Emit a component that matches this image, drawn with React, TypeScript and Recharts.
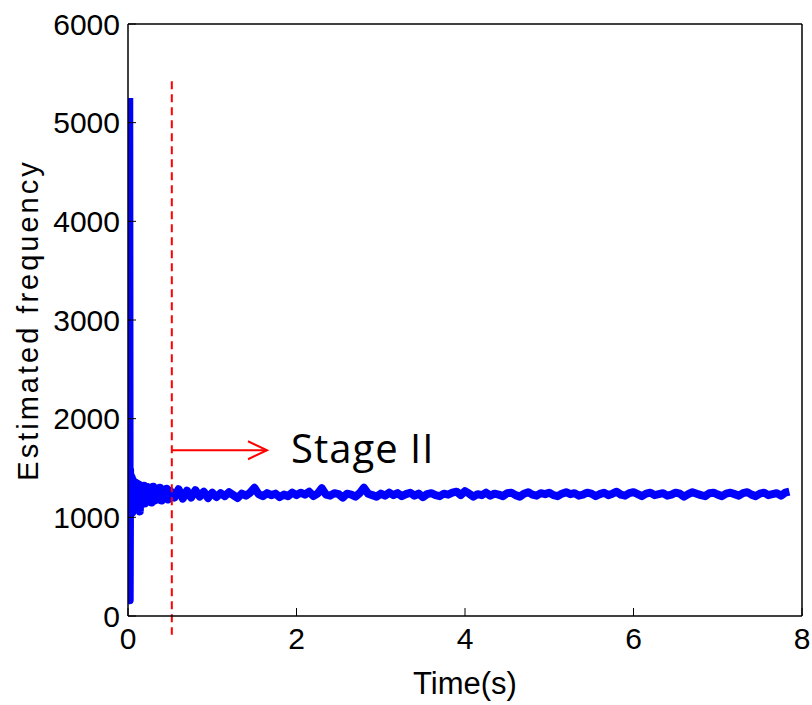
import { Line, LineChart, ReferenceLine, XAxis, YAxis } from "recharts";

// time (s) and estimated frequency
const TIME = [
	0.015, 0.02, 0.025, 0.03, 0.035, 0.04, 0.045, 0.05, 0.055, 0.06, 0.07, 0.08, 0.09, 0.1, 0.11, 0.12,
	0.13, 0.14, 0.15, 0.16, 0.17, 0.18, 0.19, 0.2, 0.22, 0.24, 0.26, 0.28, 0.3, 0.32, 0.34, 0.36,
	0.38, 0.4, 0.42, 0.44, 0.46, 0.48, 0.5,
	0.55, 0.6, 0.65, 0.7, 0.75, 0.8, 0.85, 0.9, 0.95,
	1.0, 1.05, 1.1, 1.15, 1.2, 1.25, 1.3, 1.35, 1.4, 1.45, 1.5, 1.55, 1.6, 1.65, 1.7, 1.75, 1.8, 1.85, 1.9, 1.95,
	2.0, 2.05, 2.1, 2.15, 2.2, 2.25, 2.3, 2.35, 2.4, 2.45, 2.5, 2.55, 2.6, 2.65, 2.7, 2.75, 2.8, 2.85, 2.9, 2.95,
	3.0, 3.05, 3.1, 3.15, 3.2, 3.25, 3.3, 3.35, 3.4, 3.45, 3.5, 3.55, 3.6, 3.65, 3.7, 3.75, 3.8, 3.85, 3.9, 3.95,
	4.0, 4.05, 4.1, 4.15, 4.2, 4.25, 4.3, 4.35, 4.4, 4.45, 4.5, 4.55, 4.6, 4.65, 4.7, 4.75, 4.8, 4.85, 4.9, 4.95,
	5.0, 5.05, 5.1, 5.15, 5.2, 5.25, 5.3, 5.35, 5.4, 5.45, 5.5, 5.55, 5.6, 5.65, 5.7, 5.75, 5.8, 5.85, 5.9, 5.95,
	6.0, 6.05, 6.1, 6.15, 6.2, 6.25, 6.3, 6.35, 6.4, 6.45, 6.5, 6.55, 6.6, 6.65, 6.7, 6.75, 6.8, 6.85, 6.9, 6.95,
	7.0, 7.05, 7.1, 7.15, 7.2, 7.25, 7.3, 7.35, 7.4, 7.45, 7.5, 7.55, 7.6, 7.65, 7.7, 7.75, 7.8, 7.85,
];
const FREQ = [
	5250, 160, 1480, 1030, 1420, 1060, 1400, 1050, 1380, 1100, 1360, 1080, 1350, 1120, 1340, 1100,
	1330, 1060, 1320, 1130, 1310, 1150, 1320, 1140, 1310, 1160, 1300, 1150, 1310, 1170, 1290, 1180,
	1300, 1170, 1280, 1190, 1290, 1180, 1270,
	1200, 1285, 1190, 1270, 1200, 1275, 1210, 1260, 1195,
	1250, 1205, 1245, 1215, 1255, 1225, 1195, 1240, 1220, 1250, 1300, 1235, 1215, 1245, 1225, 1240, 1205, 1230, 1215, 1250,
	1225, 1250, 1230, 1260, 1215, 1240, 1295, 1230, 1220, 1245, 1235, 1200, 1240, 1230, 1210, 1245, 1300, 1240, 1225, 1210,
	1240, 1220, 1250, 1225, 1245, 1215, 1235, 1250, 1220, 1240, 1205, 1235, 1245, 1225, 1215, 1240, 1230, 1250, 1260, 1225,
	1265, 1240, 1210, 1235, 1225, 1250, 1220, 1240, 1230, 1215, 1245, 1250, 1225, 1210, 1240, 1255, 1230, 1220, 1245, 1235,
	1250, 1225, 1215, 1240, 1255, 1235, 1245, 1220, 1230, 1250, 1240, 1215, 1235, 1250, 1225, 1240, 1260, 1230, 1220, 1245,
	1255, 1235, 1215, 1240, 1250, 1225, 1235, 1245, 1220, 1230, 1250, 1240, 1210, 1235, 1255, 1240, 1225, 1215, 1245, 1250,
	1230, 1215, 1240, 1250, 1235, 1220, 1245, 1255, 1230, 1215, 1240, 1250, 1225, 1235, 1245, 1220, 1250, 1260,
];

const X_TICKS = [0, 2, 4, 6, 8];
const Y_TICKS = [0, 1000, 2000, 3000, 4000, 5000, 6000];

// annotation: stage boundary and arrow
const STAGE_T = 0.52;
const STAGE_Y_TOP = 5420;
const STAGE_Y_BOTTOM = -190;
const ARROW_END_T = 1.65;
const ARROW_F = 1680;
const STAGE_LABEL = "Stage II";

const FONT = "'Liberation Sans', Arial, sans-serif";
const BLUE = "#0000ff";
const RED = "#ff0000";

const data = TIME.map((t, i) => ({ t, f: FREQ[i] }));

function Arrow(props: any) {
	const { x1, y1, x2, y2 } = props;
	return (
		<g>
			<line x1={x1} y1={y1} x2={x2} y2={y2} stroke={RED} strokeWidth={2} />
			<polyline
				points={`${x2 - 19},${y2 - 9} ${x2},${y2} ${x2 - 19},${y2 + 9}`}
				fill="none"
				stroke={RED}
				strokeWidth={2}
			/>
			<text
				x={x2 + 24}
				y={y2 + 13}
				fontFamily="'Open Sans', 'Noto Sans', sans-serif"
				fontSize={40}
				letterSpacing={1}
				fill="#000"
			>
				{STAGE_LABEL}
			</text>
		</g>
	);
}

export default function App() {
	const axisLine = { stroke: "#000", strokeWidth: 1.5 };
	const tickLine = { stroke: "#000", strokeWidth: 1 };
	const tickStyle = { fill: "#000", fontSize: 30, fontFamily: FONT };
	return (
		<div style={{ position: "absolute", left: 0, top: 0, background: "#fff" }}>
			<LineChart width={812} height={705} data={data} margin={{ top: 0, right: 0, bottom: 0, left: 0 }}>
				<XAxis
					dataKey="t"
					type="number"
					domain={[0, 8]}
					ticks={X_TICKS}
					allowDataOverflow
					height={89}
					axisLine={axisLine}
					tickLine={tickLine}
					tickSize={-8}
					tickMargin={20}
					tick={tickStyle}
					label={{ value: "Time(s)", position: "insideBottom", offset: 11, style: { fill: "#000", fontSize: 31, fontFamily: FONT } }}
				/>
				<XAxis
					xAxisId="top"
					orientation="top"
					dataKey="t"
					type="number"
					domain={[0, 8]}
					ticks={X_TICKS}
					height={24}
					axisLine={axisLine}
					tickLine={tickLine}
					tickSize={-8}
					tick={false}
				/>
				<YAxis
					type="number"
					domain={[0, 6000]}
					ticks={Y_TICKS}
					allowDataOverflow
					width={128}
					axisLine={axisLine}
					tickLine={tickLine}
					tickSize={-8}
					tickMargin={16}
					tick={tickStyle}
					label={{
						value: "Estimated frequency",
						angle: -90,
						position: "insideLeft",
						offset: 28,
						style: { fill: "#000", fontSize: 29, fontFamily: FONT, textAnchor: "middle", letterSpacing: 3 },
					}}
				/>
				<YAxis
					yAxisId="right"
					orientation="right"
					type="number"
					domain={[0, 6000]}
					ticks={Y_TICKS}
					width={10}
					axisLine={axisLine}
					tickLine={tickLine}
					tickSize={-8}
					tick={false}
				/>
				<Line
					type="linear"
					dataKey="f"
					stroke={BLUE}
					strokeWidth={8}
					strokeLinejoin="round"
					dot={false}
					isAnimationActive={false}
				/>
				<ReferenceLine
					segment={[
						{ x: STAGE_T, y: STAGE_Y_TOP },
						{ x: STAGE_T, y: STAGE_Y_BOTTOM },
					]}
					ifOverflow="visible"
					stroke={RED}
					strokeWidth={2}
					strokeDasharray="8 5"
				/>
				<ReferenceLine
					segment={[
						{ x: STAGE_T, y: ARROW_F },
						{ x: ARROW_END_T, y: ARROW_F },
					]}
					ifOverflow="visible"
					shape={<Arrow />}
				/>
			</LineChart>
		</div>
	);
}
